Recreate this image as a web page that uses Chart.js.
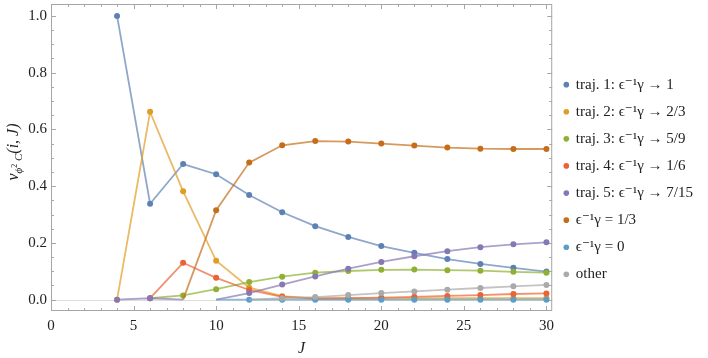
<!DOCTYPE html>
<html lang="en">
<head>
  <meta charset="UTF-8">
  <title>nu vs J</title>
  <script src="https://cdn.jsdelivr.net/npm/chart.js"></script>
  <style>
    body { margin: 0; background: white; }
    canvas { display: block; }
  </style>
</head>
<body>
  <canvas id="chart" width="708" height="358"></canvas>

  <script>
    // values
    const J = [4, 6, 8, 10, 12, 14, 16, 18, 20, 22, 24, 26, 28, 30];
    const traj1 = [1.0, 0.338, 0.478, 0.442, 0.369, 0.308, 0.259, 0.221, 0.189, 0.165, 0.143, 0.126, 0.112, 0.099];
    const traj2 = [0, 0.662, 0.382, 0.137, 0.042, 0.012, 0.004, 0.004, 0.004, 0.005, 0.005, 0.005, 0.005, 0.005];
    const traj3 = [null, 0.005, 0.015, 0.037, 0.062, 0.081, 0.095, 0.101, 0.105, 0.106, 0.104, 0.102, 0.098, 0.095];
    const traj4 = [null, 0.005, 0.130, 0.077, 0.034, 0.010, 0.004, 0.005, 0.007, 0.010, 0.013, 0.016, 0.020, 0.022];
    const traj5 = [0, 0.005, 0, 0, 0.023, 0.053, 0.082, 0.109, 0.133, 0.153, 0.171, 0.185, 0.195, 0.202];
    const eps13 = [null, null, 0, 0.315, 0.483, 0.544, 0.559, 0.557, 0.550, 0.543, 0.536, 0.532, 0.531, 0.531];
    const eps0 = [null, null, null, 0, 0, 0, 0, 0, 0, 0, 0, 0, 0, 0];
    const other = [null, null, null, null, 0, 0.005, 0.009, 0.016, 0.023, 0.029, 0.035, 0.041, 0.047, 0.052];

    const xTicks = [0, 5, 10, 15, 20, 25, 30];
    const yTicks = [0, 0.2, 0.4, 0.6, 0.8, 1.0];

    const labels = [
      'traj. 1: ϵ⁻¹γ → 1',
      'traj. 2: ϵ⁻¹γ → 2/3',
      'traj. 3: ϵ⁻¹γ → 5/9',
      'traj. 4: ϵ⁻¹γ → 1/6',
      'traj. 5: ϵ⁻¹γ → 7/15',
      'ϵ⁻¹γ = 1/3',
      'ϵ⁻¹γ = 0',
      'other'
    ];
    const series = [traj1, traj2, traj3, traj4, traj5, eps13, eps0, other];
    const colors = ['#5e81b5', '#e19c24', '#8fb032', '#eb6235', '#8778b3', '#c56e1a', '#5d9ec7', '#aaaaaa'];

    // J values where a line starts without a dot, and where a line is broken
    const noDot = { 4: [8, 10], 5: [8], 6: [10], 7: [12] };
    const breakAfter = { 4: [8] };

    const fade = (hex, a) => {
      const n = parseInt(hex.slice(1), 16);
      return `rgba(${n >> 16}, ${(n >> 8) & 255}, ${n & 255}, ${a})`;
    };

    const serif = "'Liberation Serif', 'DejaVu Serif', serif";

    const datasets = series.map((vals, i) => ({
      label: labels[i],
      data: J.map((x, k) => ({ x: x, y: vals[k] })),
      borderColor: fade(colors[i], 0.7),
      backgroundColor: colors[i],
      pointBackgroundColor: colors[i],
      pointBorderWidth: 0,
      pointRadius: ctx => (noDot[i] || []).includes(ctx.raw.x) ? 0 : 3,
      borderWidth: 1.8,
      order: 10 - i,
      segment: {
        borderColor: ctx => (breakAfter[i] || []).includes(ctx.p0.parsed.x) ? 'transparent' : undefined
      }
    }));

    const frame = {
      id: 'frame',
      beforeDatasetsDraw(chart) {
        const { ctx, chartArea: a, scales: { x, y } } = chart;
        ctx.save();
        // y = 0 axis
        ctx.strokeStyle = '#dddddd';
        ctx.lineWidth = 1;
        ctx.beginPath();
        ctx.moveTo(a.left, Math.round(y.getPixelForValue(0)) + 0.5);
        ctx.lineTo(a.right, Math.round(y.getPixelForValue(0)) + 0.5);
        ctx.stroke();

        ctx.strokeStyle = '#a6a6a6';
        ctx.strokeRect(a.left + 0.5, a.top + 0.5, a.right - a.left - 1, a.bottom - a.top - 1);
        ctx.beginPath();
        for (let v = 0; v <= 30; v += 1) {
          const px = Math.round(x.getPixelForValue(v)) + 0.5;
          const len = v % 5 === 0 ? 5 : 3;
          ctx.moveTo(px, a.bottom); ctx.lineTo(px, a.bottom - len);
          ctx.moveTo(px, a.top); ctx.lineTo(px, a.top + len);
        }
        for (let k = 0; k <= 20; k++) {
          const py = Math.round(y.getPixelForValue(k * 0.05)) + 0.5;
          const len = k % 4 === 0 ? 5 : 3;
          ctx.moveTo(a.left, py); ctx.lineTo(a.left + len, py);
          ctx.moveTo(a.right, py); ctx.lineTo(a.right - len, py);
        }
        ctx.stroke();
        ctx.restore();
      },
      afterDraw(chart) {
        // y axis title with sub/superscripts
        const { ctx } = chart;
        const parts = [
          ['ν', 16, 0, 'italic'],
          ['ϕ', 11, 4, 'italic'],
          ['2', 8, -1, 'normal'],
          [' C', 11, 4, 'italic'],
          ['(i, J)', 16, 0, 'italic']
        ];
        ctx.save();
        let total = 0;
        parts.forEach(p => {
          ctx.font = `${p[3]} ${p[1]}px ${serif}`;
          total += ctx.measureText(p[0]).width;
        });
        ctx.translate(13, 152);
        ctx.rotate(-Math.PI / 2);
        ctx.fillStyle = '#222';
        ctx.textBaseline = 'alphabetic';
        let cx = -total / 2;
        parts.forEach(p => {
          ctx.font = `${p[3]} ${p[1]}px ${serif}`;
          ctx.fillText(p[0], cx, 5 + p[2]);
          cx += ctx.measureText(p[0]).width;
        });
        ctx.restore();
      }
    };

    new Chart(document.getElementById('chart').getContext('2d'), {
      type: 'line',
      data: { datasets },
      options: {
        responsive: false,
        animation: false,
        layout: { padding: { top: 1, right: 5, bottom: 0 } },
        scales: {
          x: {
            type: 'linear',
            min: 0,
            max: 30.35,
            afterBuildTicks: s => { s.ticks = xTicks.map(v => ({ value: v })); },
            afterFit: s => { s.height = 47; s.paddingLeft = 0; s.paddingRight = 0; },
            grid: { display: false, drawTicks: false },
            border: { display: false },
            ticks: { padding: 6, color: '#222', font: { family: serif, size: 15 } },
            title: { display: true, text: 'J', color: '#222', padding: 0, font: { family: serif, size: 16, style: 'italic' } }
          },
          y: {
            min: -0.04,
            max: 1.042,
            afterBuildTicks: s => { s.ticks = yTicks.map(v => ({ value: v })); },
            afterFit: s => { s.width = 51; s.paddingTop = 0; s.paddingBottom = 0; },
            grid: { display: false, drawTicks: false },
            border: { display: false },
            ticks: { padding: 4, color: '#222', font: { family: serif, size: 15 }, callback: v => v.toFixed(1) }
          }
        },
        plugins: {
          tooltip: { enabled: false },
          legend: {
            position: 'right',
            labels: {
              usePointStyle: true,
              pointStyle: 'circle',
              boxWidth: 4,
              boxHeight: 4,
              padding: 12.1,
              color: '#222',
              font: { family: serif, size: 15 },
              sort: (a, b) => a.datasetIndex - b.datasetIndex,
              generateLabels: chart => Chart.defaults.plugins.legend.labels.generateLabels(chart)
                .map(l => Object.assign(l, { lineWidth: 0 }))
            }
          }
        }
      },
      plugins: [frame]
    });
  </script>
</body>
</html>
